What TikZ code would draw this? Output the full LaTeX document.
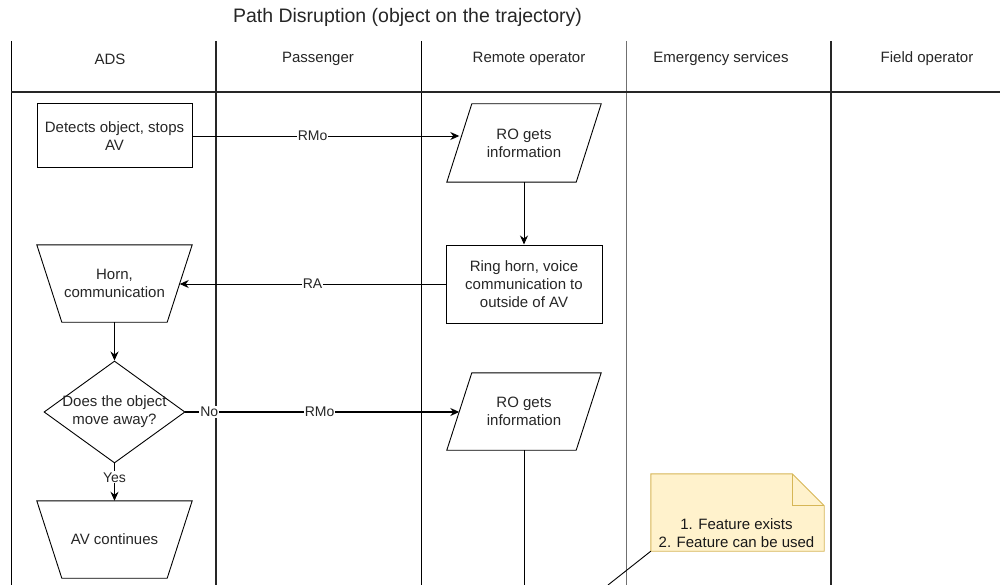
\documentclass[tikz,border=0pt]{standalone}
\usepackage{fontspec}
\setmainfont{Liberation Sans}
\usetikzlibrary{shapes.geometric,arrows.meta}
\definecolor{notefill}{HTML}{FFF2CC}
\definecolor{notedraw}{HTML}{D6B656}
\definecolor{lanegray}{HTML}{707070}
\begin{document}
\begin{tikzpicture}[x=1pt,y=-1pt,
  txt/.style={font=\fontsize{15}{18}\selectfont, align=center, text=black!85, inner sep=0pt},
  box/.style={txt, draw, line width=1pt},
  hdr/.style={font=\fontsize{15}{18}\selectfont, text=black!85, inner sep=0pt},
  lbl/.style={font=\fontsize{14}{16}\selectfont, fill=white, inner sep=1pt, text=black!85},
  flow/.style={draw, line width=0.9pt, -{Stealth[length=9pt,width=8pt]}},
  flowthick/.style={draw, line width=1.4pt, -{Stealth[length=9pt,width=8pt]}},
  lanethick/.style={line width=1.4pt, black!85},
  lanethin/.style={line width=0.8pt, black},
  lanegrey/.style={line width=1.3pt, lanegray}
]
\useasboundingbox (0,0) rectangle (1000,585);

% title
\node[font=\fontsize{19.5}{22}\selectfont, text=black!85, inner sep=0pt] (title) at (407.5,17) {Path Disruption (object on the trajectory)};

% pool and lanes
\draw[lanethin] (11.5,41) -- (11.5,585);
\draw[lanethick] (216,41) -- (216,585);
\draw[lanethin] (421.5,41) -- (421.5,585);
\draw[lanegrey] (626.5,41) -- (626.5,585);
\draw[lanethick] (831,41) -- (831,585);
\draw[line width=1.4pt, black!85] (11,92) -- (1000,92);

\node[hdr] (hADS) at (110,59) {ADS};
\node[hdr] (hPas) at (318,59) {Passenger};
\node[hdr] (hRO) at (529,59) {Remote operator};
\node[hdr] (hEm) at (721,59) {Emergency services};
\node[hdr] (hFO) at (927,59) {Field operator};

% ADS lane
\node[box, minimum width=155, minimum height=64] (box1) at (114.5,136) {Detects object, stops\\AV};

\node[txt, minimum width=155, minimum height=77] (horn) at (114.5,283.5) {Horn,\\communication};
\draw[line width=0.9pt] (horn.north west) -- (horn.north east) -- ([xshift=-25]horn.south east) -- ([xshift=25]horn.south west) -- cycle;
\coordinate (hornR) at ([xshift=-12.5]horn.east);

\node[diamond, draw, line width=0.9pt, minimum width=141, minimum height=102, inner sep=0pt] (dec) at (114.5,412) {};
\node[txt] (dectext) at (114.5,412) {Does the object\\move away?};

\node[txt, minimum width=155, minimum height=77] (avc) at (114.5,539.5) {AV continues};
\draw[line width=0.9pt] (avc.north west) -- (avc.north east) -- ([xshift=-25]avc.south east) -- ([xshift=25]avc.south west) -- cycle;

% Remote operator lane
\node[txt, minimum width=129, minimum height=78] (ro1) at (524,143) {RO gets\\information};
\draw[line width=0.9pt] ([xshift=12.5]ro1.north west) -- ([xshift=12.5]ro1.north east) -- ([xshift=-12.5]ro1.south east) -- ([xshift=-12.5]ro1.south west) -- cycle;

\node[box, minimum width=156, minimum height=78] (box2) at (524,284) {Ring horn, voice\\communication to\\outside of AV};

\node[txt, minimum width=129, minimum height=77] (ro2) at (524,411.5) {RO gets\\information};
\draw[line width=0.9pt] ([xshift=12.5]ro2.north west) -- ([xshift=12.5]ro2.north east) -- ([xshift=-12.5]ro2.south east) -- ([xshift=-12.5]ro2.south west) -- cycle;
\coordinate (ro2bot) at (524,585);

% note
\node[minimum width=173, minimum height=77, inner sep=0pt] (note) at (737.5,512.5) {};
\draw[notedraw, fill=notefill, line width=0.9pt] (note.north west) -- ([xshift=-32]note.north east) -- ([yshift=-32]note.north east) -- (note.south east) -- (note.south west) -- cycle;
\draw[notedraw, line width=0.9pt] ([xshift=-32]note.north east) -- ([xshift=-32,yshift=-32]note.north east) -- ([yshift=-32]note.north east);
\node[txt, text=black!90] (notetext) at (736.5,533) {1. Feature exists\\2. Feature can be used};
\coordinate (notetail) at (608,585);

% connectors
\draw[flow] (box1.east) -- (box1.east -| ro1.west) node[lbl, pos=0.45] (l1) {RMo};
\draw[flow] (ro1.south) -- (box2.north);
\draw[flow] (box2.west) -- (box2.west -| hornR) node[lbl, pos=0.5] (l2) {RA};
\draw[flowthick] (horn.south) -- (dec.north);
\draw[flowthick] (dec.east) -- (dec.east -| ro2.west) node[lbl, pos=0.087] (l3) {No} node[lbl, pos=0.49] (l4) {RMo};
\draw[flowthick] (dec.south) -- (avc.north) node[lbl, pos=0.37] (l5) {Yes};
\draw[line width=0.9pt] (ro2.south) -- (ro2bot);
\draw[line width=0.9pt] (note.south west) -- (notetail);
\end{tikzpicture}
\end{document}
